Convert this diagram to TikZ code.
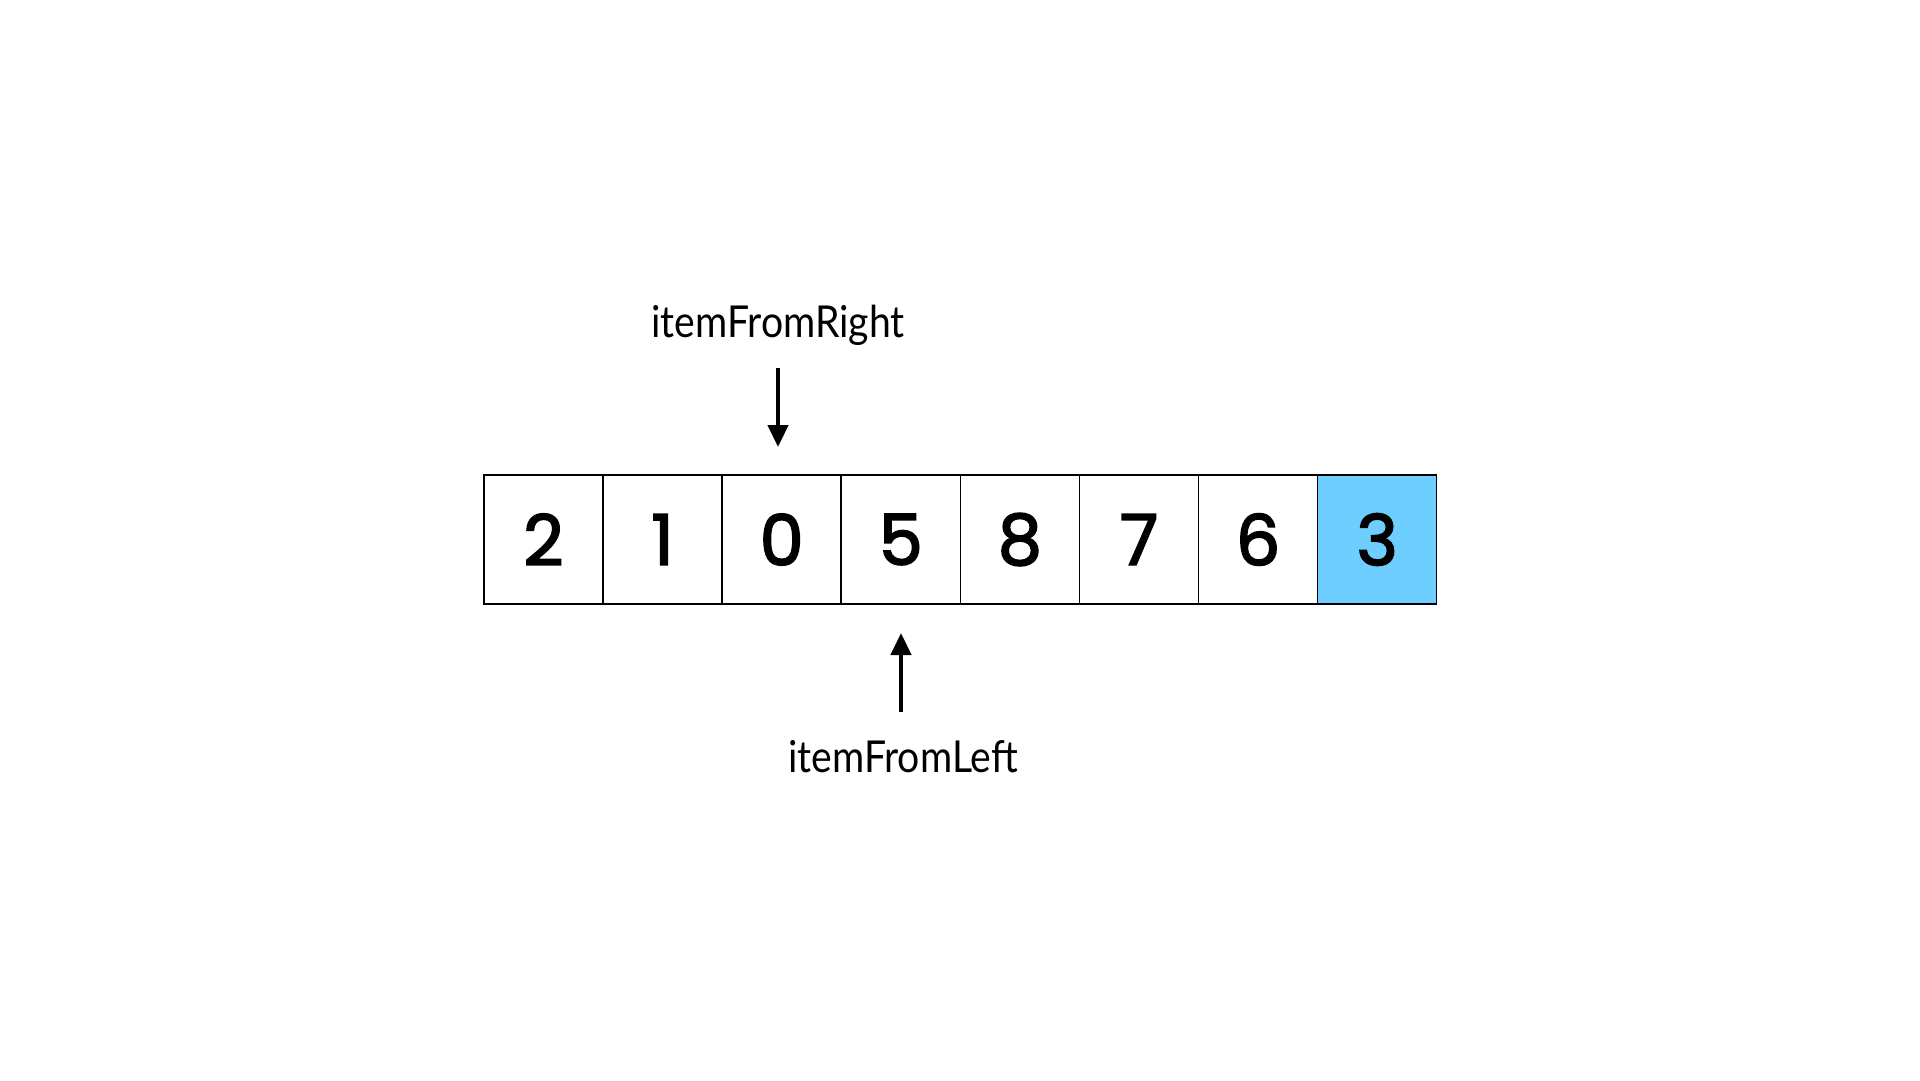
\documentclass[tikz,border=0pt]{standalone}
\usepackage{fontspec}
\setmainfont{Lato}
\newfontfamily\digitfont[FakeBold=2.5]{Poppins}
\newfontfamily\labelfont[FakeStretch=0.89]{Lato}
\usetikzlibrary{arrows.meta}
\definecolor{cellblue}{RGB}{110,206,255}

\begin{document}
\begin{tikzpicture}[x=1pt,y=-1pt,
  cell/.style={draw, line width=1.5pt, minimum width=119pt, minimum height=129pt, inner sep=0pt, font=\digitfont\fontsize{70}{70}\selectfont},
  pointer/.style={-{Triangle[width=20pt,length=22pt]}, line width=4.5pt},
  tag/.style={anchor=base, font=\labelfont\fontsize{44}{44}\selectfont}]
\useasboundingbox (0,0) rectangle (1920,1080);

% the array
\node[cell] (c1) at (543.5, 539.5) {2};
\node[cell] (c2) at (662.6, 539.5) {1};
\node[cell] (c3) at (781.7, 539.5) {0};
\node[cell] (c4) at (900.8, 539.5) {5};
\node[cell] (c5) at (1019.9, 539.5) {8};
\node[cell] (c6) at (1139.0, 539.5) {7};
\node[cell] (c7) at (1258.1, 539.5) {6};
\node[cell, fill=cellblue] (c8) at (1377.2, 539.5) {3};

% pointers
\node[tag] (right) at (778, 337) {itemFromRight};
\coordinate (rtop) at (778, 368);
\coordinate (rtip) at (778, 447);
\draw[pointer] (rtop) -- (rtip);

\node[tag] (left) at (903, 772) {itemFromLeft};
\coordinate (ltail) at (901, 712);
\coordinate (ltip) at (901, 633);
\draw[pointer] (ltail) -- (ltip);

\end{tikzpicture}
\end{document}
